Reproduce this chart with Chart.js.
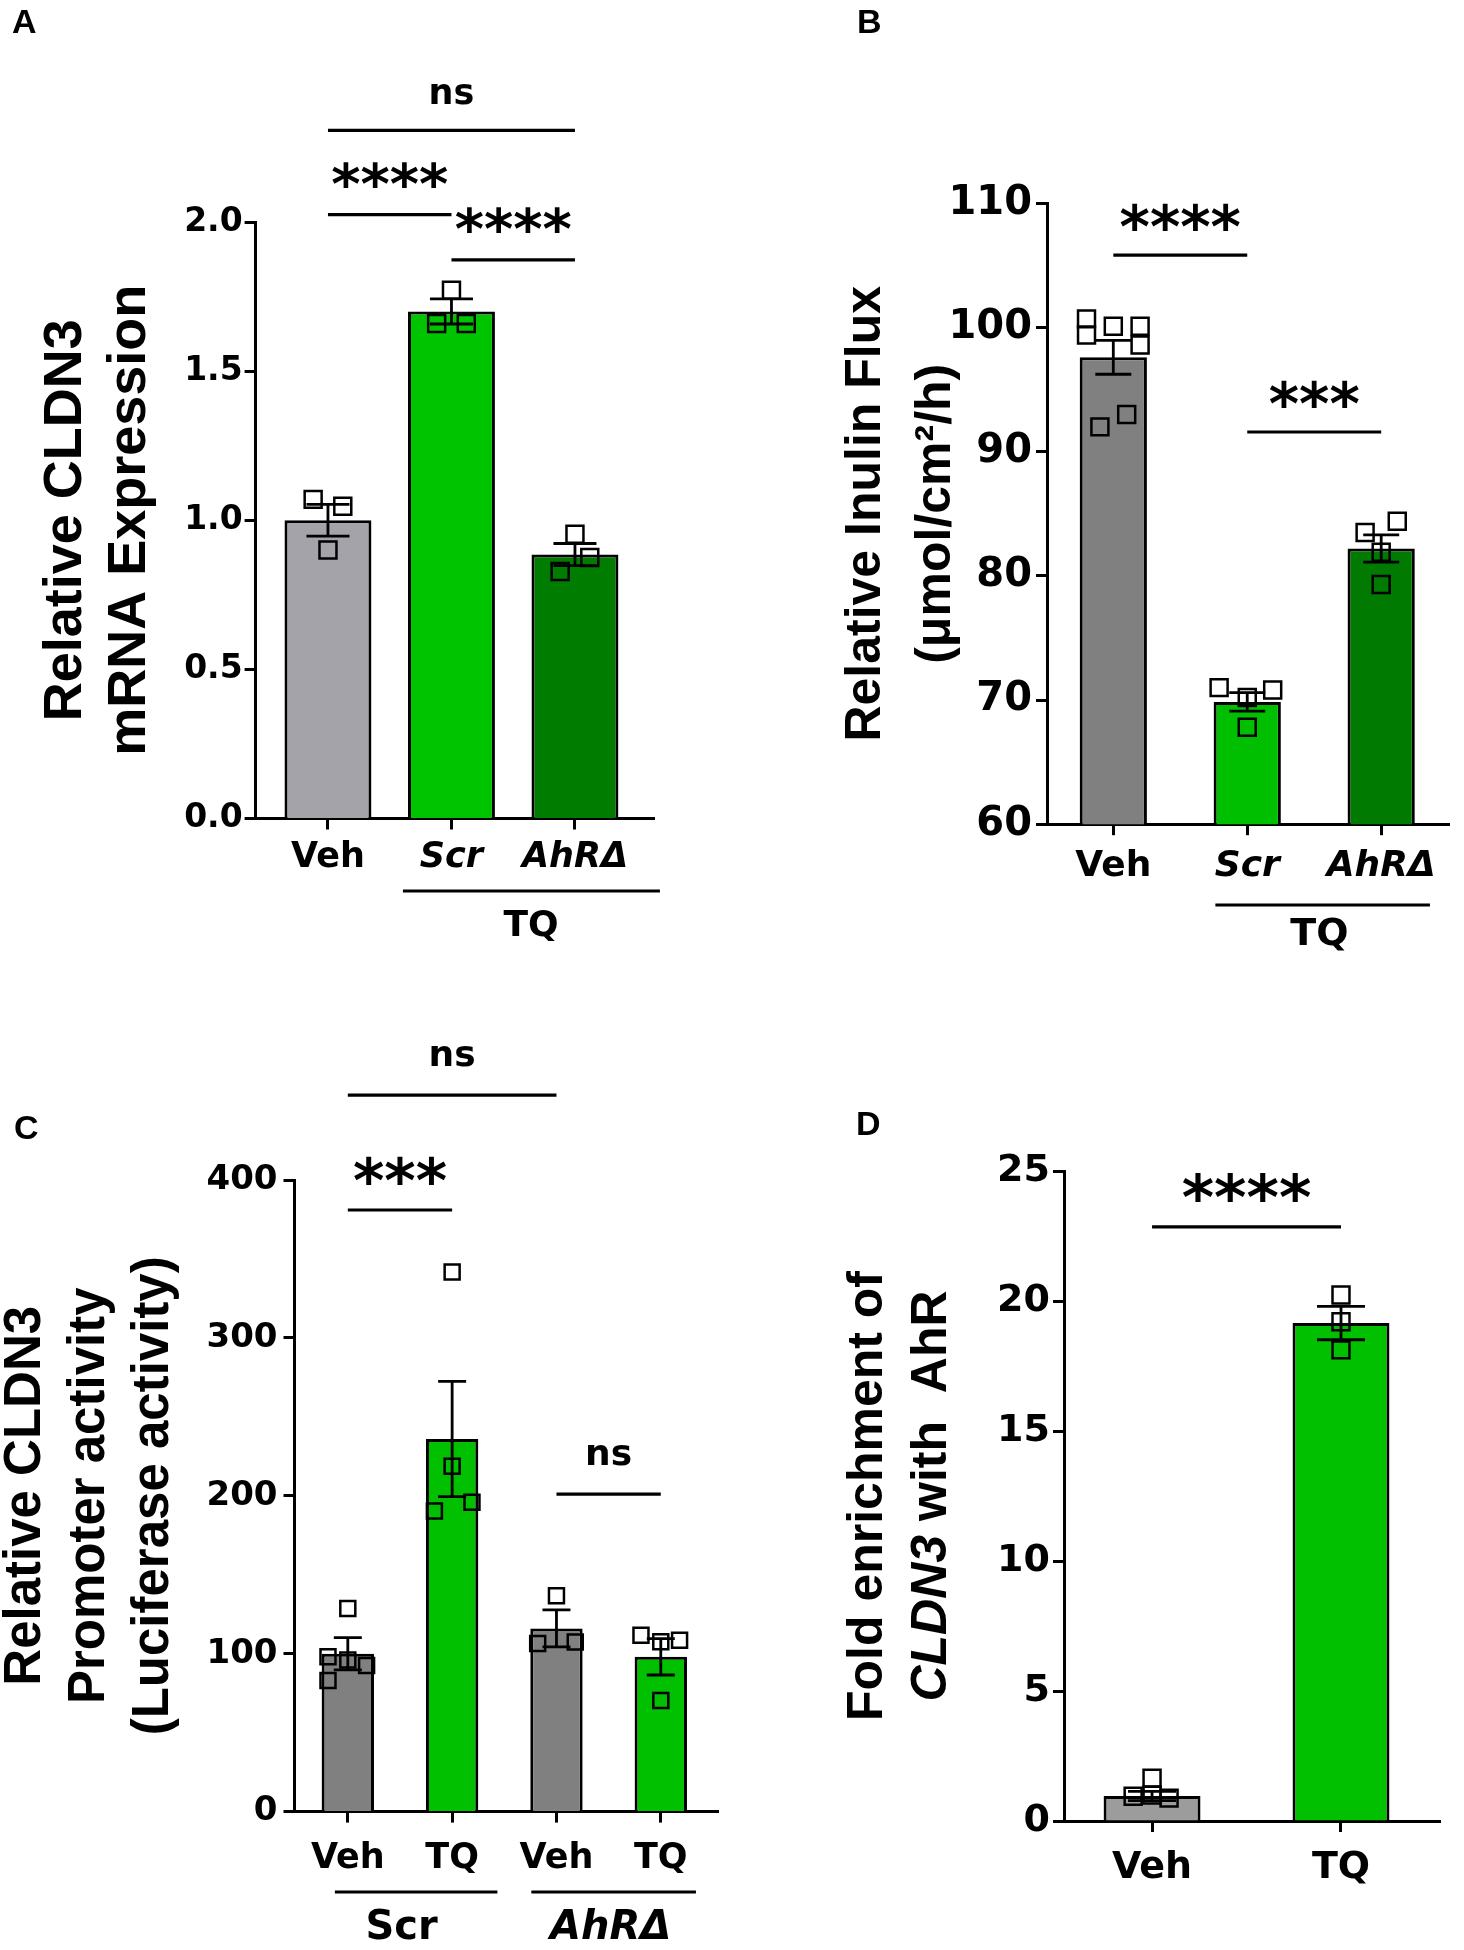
<!DOCTYPE html>
<html>
<head>
<meta charset="utf-8">
<script src="https://cdn.jsdelivr.net/npm/chart.js@4/dist/chart.umd.min.js"></script>
<style>
html, body { margin: 0; padding: 0; background: #ffffff; }
body { width: 1464px; height: 1950px; position: relative; overflow: hidden; }
.panel { position: absolute; width: 732px; height: 975px; }
.letter { position: absolute; font: bold 34px "Liberation Sans", Arial, sans-serif; line-height: 34px; color: #000; }
</style>
</head>
<body>
<div class="panel" style="left:0;top:0"><canvas id="cA"></canvas></div>
<div class="panel" style="left:732px;top:0"><canvas id="cB"></canvas></div>
<div class="panel" style="left:0;top:975px"><canvas id="cC"></canvas></div>
<div class="panel" style="left:732px;top:975px"><canvas id="cD"></canvas></div>
<div class="letter" style="left:12px;top:4px">A</div>
<div class="letter" style="left:857px;top:4px">B</div>
<div class="letter" style="left:14px;top:1110px">C</div>
<div class="letter" style="left:856px;top:1106px">D</div>
<script>
// ---------------- DATA ----------------
// Panel A: Relative CLDN3 mRNA expression
const catsA = ['Veh', 'Scr', 'AhRΔ'];
const meansA = [1.00, 1.70, 0.885];
const semA = [0.053, 0.042, 0.037];
const pointsA = [[1.07, 1.047, 0.90], [1.771, 1.66, 1.66], [0.953, 0.875, 0.828]];
const jitterA = [[-0.12, 0.12, 0], [0, -0.12, 0.12], [0, 0.12, -0.12]];
const ticksA = [0, 0.5, 1.0, 1.5, 2.0];
const sigA = [[0, 2, 2.307, 'ns'], [0, 1, 2.025, '****'], [1, 2, 1.873, '****']];
const groupsA = [[0.607, 2.688, 'TQ', 1.644, false]];
const titleA = [[{t: 'Relative CLDN3'}], [{t: 'mRNA Expression'}]];

// Panel B: Relative inulin flux
const catsB = ['Veh', 'Scr', 'AhRΔ'];
const meansB = [97.6, 69.85, 82.2];
const semB = [1.36, 0.75, 1.1];
const pointsB = [[100.7, 99.4, 100.1, 100.1, 98.6, 92.0, 93.0], [71.0, 70.8, 70.2, 67.8], [84.4, 83.5, 81.9, 79.3]];
const jitterB = [[-0.2, -0.2, 0, 0.2, 0.2, -0.1, 0.1], [-0.21, 0.19, 0, 0], [0.12, -0.12, 0, 0]];
const ticksB = [60, 70, 80, 90, 100, 110];
const sigB = [[0, 1, 105.84, '****'], [1, 2, 91.59, '***']];
const groupsB = [[0.762, 2.364, 'TQ', 1.539, false]];
const titleB = [[{t: 'Relative Inulin Flux'}], [{t: '(μmol/cm²/h)'}]];

// Panel C: CLDN3 promoter activity
const catsC = ['Veh', 'TQ', 'Veh', 'TQ'];
const meansC = [100, 236, 116, 98];
const semC = [10.2, 36.5, 11.7, 11.5];
const pointsC = [[128.7, 98, 83, 96, 92.5], [341.7, 218.7, 190.3, 195.9], [136.7, 106.4, 107.4], [111.7, 108.5, 107.5, 70.3]];
const jitterC = [[0, -0.19, -0.19, 0, 0.18], [0, 0, -0.17, 0.19], [0, -0.18, 0.18], [-0.19, 0.18, 0, 0]];
const ticksC = [0, 100, 200, 300, 400];
const sigC = [[0, 2, 453.8, 'ns'], [0, 1, 381, '***'], [2, 3, 201.1, 'ns']];
const groupsC = [[-0.124, 1.434, 'Scr', 0.516, false], [1.759, 3.337, 'AhRΔ', 2.52, true]];
const titleC = [[{t: 'Relative CLDN3'}], [{t: 'Promoter activity'}], [{t: '(Luciferase activity)'}]];

// Panel D: Fold enrichment of CLDN3 with AhR
const catsD = ['Veh', 'TQ'];
const meansD = [0.96, 19.15];
const semD = [0.18, 0.64];
const pointsD = [[1.64, 0.95, 1.0, 0.88], [20.23, 19.2, 18.12]];
const jitterD = [[0, -0.1, 0, 0.09], [0, 0, 0]];
const ticksD = [0, 5, 10, 15, 20, 25];
const sigD = [[0, 1, 22.85, '****']];
const groupsD = [];
const titleD = [[{t: 'Fold enrichment of'}], [{t: 'CLDN3', i: true}, {t: ' with  AhR'}]];

// ---------------- DRAWING ----------------
const FT = '"DejaVu Sans", sans-serif';
const FTT = '"Liberation Sans", Arial, sans-serif';

const annot = {
  id: 'annot',
  afterDatasetsDraw(chart, args, o) {
    const ctx = chart.ctx, xs = chart.scales.x, ys = chart.scales.y;
    ctx.save();
    ctx.strokeStyle = '#000';
    ctx.lineWidth = o.ebWidth;
    o.means.forEach((m, i) => {
      const x = xs.getPixelForValue(i);
      const yt = ys.getPixelForValue(m + o.sem[i]);
      const yb = ys.getPixelForValue(Math.max(m - o.sem[i], ys.min));
      ctx.beginPath();
      ctx.moveTo(x, yb); ctx.lineTo(x, yt);
      ctx.moveTo(x - o.cap / 2, yt); ctx.lineTo(x + o.cap / 2, yt);
      if (m - o.sem[i] > ys.min) { ctx.moveTo(x - o.cap / 2, yb); ctx.lineTo(x + o.cap / 2, yb); }
      ctx.stroke();
    });
    ctx.restore();
  },
  afterDraw(chart, args, o) {
    const ctx = chart.ctx, xs = chart.scales.x, ys = chart.scales.y, ca = chart.chartArea;
    ctx.save();
    ctx.fillStyle = '#000';
    ctx.strokeStyle = '#000';
    ctx.textAlign = 'center';
    // significance bars
    o.sig.forEach(([a, b, yv, label]) => {
      const x1 = xs.getPixelForValue(a), x2 = xs.getPixelForValue(b), y = ys.getPixelForValue(yv);
      ctx.lineWidth = o.lineW;
      ctx.beginPath(); ctx.moveTo(x1, y); ctx.lineTo(x2, y); ctx.stroke();
      const star = label.charAt(0) === '*';
      ctx.font = 'bold ' + (star ? o.starSize : o.nsSize) + 'px ' + FT;
      ctx.textBaseline = 'alphabetic';
      ctx.fillText(label, (x1 + x2) / 2, y - (star ? o.starGap : o.nsGap));
    });
    // group bars under the axis
    o.groups.forEach(([a, b, label, lx, it]) => {
      const x1 = xs.getPixelForValue(a), x2 = xs.getPixelForValue(b);
      const y = ca.bottom + o.grpLine;
      ctx.lineWidth = o.lineW;
      ctx.beginPath(); ctx.moveTo(x1, y); ctx.lineTo(x2, y); ctx.stroke();
      ctx.font = (it ? 'italic ' : '') + 'bold ' + o.grpSize + 'px ' + FT;
      ctx.textBaseline = 'middle';
      ctx.fillText(label, xs.getPixelForValue(lx), ca.bottom + o.grpText);
    });
    // y-axis title (rotated, multi-line, mixed styles)
    const yc = (ca.top + ca.bottom) / 2;
    o.title.forEach((segs, li) => {
      ctx.save();
      ctx.translate(o.titleX + li * o.titleLH, yc);
      ctx.rotate(-Math.PI / 2);
      ctx.textBaseline = 'middle';
      ctx.textAlign = 'left';
      const fontOf = (s) => (s.i ? 'italic ' : '') + o.titleWeight + ' ' + o.titleSize + 'px ' + FTT;
      let total = 0;
      segs.forEach(s => { ctx.font = fontOf(s); total += ctx.measureText(s.t).width; });
      let x = -total / 2;
      segs.forEach(s => { ctx.font = fontOf(s); ctx.fillText(s.t, x, 0); x += ctx.measureText(s.t).width; });
      ctx.restore();
    });
    ctx.restore();
  }
};

function makePanel(p) {
  const barData = p.means.map((m, i) => ({x: i, y: m}));
  const ptData = [];
  p.points.forEach((arr, i) => arr.forEach((v, k) => ptData.push({x: i + p.jitter[i][k], y: v})));
  const W = 732, H = 975, XH = 120;
  return new Chart(document.getElementById(p.id), {
    type: 'bar',
    data: {
      datasets: [
        { type: 'scatter', data: ptData, pointStyle: 'rect', pointRadius: p.ptR, pointHoverRadius: p.ptR,
          backgroundColor: 'rgba(0,0,0,0)', borderColor: '#000', borderWidth: 2.5, order: 1 },
        { type: 'bar', data: barData, backgroundColor: p.colors, borderColor: '#000', borderWidth: 3,
          barPercentage: p.barPct, categoryPercentage: 1, order: 2 }
      ]
    },
    options: {
      responsive: true,
      maintainAspectRatio: false,
      animation: false,
      devicePixelRatio: 1,
      layout: { padding: { left: 0, top: p.area.top, right: W - p.area.right, bottom: H - p.area.bottom - XH } },
      plugins: {
        legend: { display: false },
        tooltip: { enabled: false },
        annot: {
          means: p.means, sem: p.sem, cap: p.cap, ebWidth: 2.8,
          sig: p.sig, groups: p.groups, lineW: 3.2,
          starSize: p.starSize, nsSize: p.nsSize, starGap: p.starGap, nsGap: p.nsGap,
          grpLine: p.grpLine, grpText: p.grpText, grpSize: p.grpSize,
          title: p.title, titleX: p.titleX, titleLH: p.titleLH, titleSize: p.titleSize, titleWeight: 'bold'
        }
      },
      scales: {
        x: {
          type: 'linear', min: p.xRange[0], max: p.xRange[1], offset: false,
          afterBuildTicks: (s) => { s.ticks = p.cats.map((c, i) => ({value: i})); },
          afterFit: (s) => { s.height = XH; },
          ticks: {
            autoSkip: false, maxRotation: 0, minRotation: 0, color: '#000', padding: p.xPad,
            callback: (v) => p.cats[Math.round(v)],
            font: (c) => ({ family: FT, size: p.xSize, weight: 'bold',
              style: (p.italicCats && p.italicCats[c.index]) ? 'italic' : 'normal' })
          },
          grid: { display: true, offset: false, drawOnChartArea: false, drawTicks: true, tickLength: 11, tickWidth: 3, tickColor: '#000' },
          border: { display: true, color: '#000', width: 3 }
        },
        y: {
          min: p.yTicks[0], max: p.yTicks[p.yTicks.length - 1],
          afterBuildTicks: (s) => { s.ticks = p.yTicks.map(v => ({value: v})); },
          afterFit: (s) => { s.width = p.area.left; },
          ticks: {
            color: '#000', padding: p.yPad,
            font: { family: FT, size: p.ySize, weight: 'bold' },
            callback: (v) => p.yFmt(v)
          },
          grid: { display: true, offset: false, drawOnChartArea: false, drawTicks: true, tickLength: 11, tickWidth: 3, tickColor: '#000' },
          border: { display: true, color: '#000', width: 3 }
        }
      }
    },
    plugins: [annot]
  });
}

makePanel({
  id: 'cA', cats: catsA, means: meansA, sem: semA, points: pointsA, jitter: jitterA, yTicks: ticksA,
  sig: sigA, groups: groupsA, title: titleA, italicCats: [false, true, true],
  colors: ['#a3a3a9', '#00c400', '#007d00'],
  area: {left: 255.6, right: 654, top: 222, bottom: 818.5}, xRange: [-0.586, 2.64],
  barPct: 0.704, ptR: 12, cap: 43, yFmt: (v) => v.toFixed(1),
  ySize: 33, yPad: 2, xSize: 35, xPad: 7,
  starSize: 56, nsSize: 35, starGap: 12, nsGap: 26,
  grpLine: 72.5, grpText: 108.5, grpSize: 36,
  titleX: 66, titleLH: 64, titleSize: 54
});

makePanel({
  id: 'cB', cats: catsB, means: meansB, sem: semB, points: pointsB, jitter: jitterB, yTicks: ticksB,
  sig: sigB, groups: groupsB, title: titleB, italicCats: [false, true, true],
  colors: ['#808080', '#00bf00', '#007a00'],
  area: {left: 315, right: 728, top: 203.4, bottom: 824.2}, xRange: [-0.495, 2.51],
  barPct: 0.502, ptR: 12, cap: 36, yFmt: (v) => String(v),
  ySize: 40, yPad: 4, xSize: 36, xPad: 10,
  starSize: 58, nsSize: 36, starGap: 8, nsGap: 28,
  grpLine: 80.8, grpText: 111, grpSize: 38,
  titleX: 134, titleLH: 70, titleSize: 50
});

makePanel({
  id: 'cC', cats: catsC, means: meansC, sem: semC, points: pointsC, jitter: jitterC, yTicks: ticksC,
  sig: sigC, groups: groupsC, title: titleC, italicCats: null,
  colors: ['#808080', '#00c000', '#808080', '#00c000'],
  area: {left: 294.5, right: 720, top: 205, bottom: 836.6}, xRange: [-0.511, 3.557],
  barPct: 0.502, ptR: 10.6, cap: 28, yFmt: (v) => String(v),
  ySize: 34, yPad: 6, xSize: 35, xPad: 15,
  starSize: 60, nsSize: 36, starGap: 8, nsGap: 29,
  grpLine: 80.4, grpText: 117, grpSize: 40,
  titleX: 26, titleLH: 64, titleSize: 51
});

makePanel({
  id: 'cD', cats: catsD, means: meansD, sem: semD, points: pointsD, jitter: jitterD, yTicks: ticksD,
  sig: sigD, groups: groupsD, title: titleD, italicCats: null,
  colors: ['#9c9c9c', '#00c000'],
  area: {left: 332, right: 708, top: 196, bottom: 846}, xRange: [-0.466, 1.524],
  barPct: 0.513, ptR: 12, cap: 48, yFmt: (v) => String(v),
  ySize: 38, yPad: 3, xSize: 38, xPad: 13,
  starSize: 62, nsSize: 36, starGap: 8, nsGap: 28,
  grpLine: 80, grpText: 110, grpSize: 38,
  titleX: 136, titleLH: 64, titleSize: 50
});
</script>
</body>
</html>
